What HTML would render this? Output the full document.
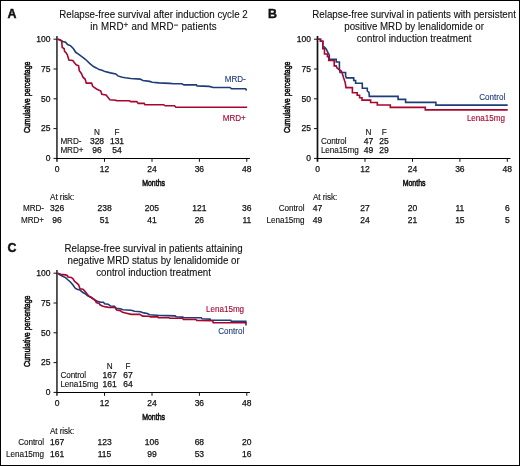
<!DOCTYPE html>
<html><head><meta charset="utf-8"><style>
html,body{margin:0;padding:0;background:#fff;}
body{width:520px;height:466px;overflow:hidden;position:relative;}
svg{position:absolute;left:0;top:0;font-family:"Liberation Sans", sans-serif;will-change:transform;}
#c{filter:blur(0.25px);}
svg text{fill:#111;stroke:#111;stroke-width:0.25px;}
</style></head><body>
<svg id="c" width="520" height="466" viewBox="0 0 520 466">
<text x="7.5" y="17.8" font-size="12.4" font-weight="bold" style="stroke-width:0.45px">A</text>
<text transform="translate(153.50,17.80) scale(0.92,1)" font-size="10.6" text-anchor="middle" style="stroke-width:0.12px">Relapse-free survival after induction cycle 2</text>
<text transform="translate(153.50,30.00) scale(0.92,1)" font-size="10.6" text-anchor="middle" style="stroke-width:0.12px"><tspan letter-spacing="0.16">in MRD</tspan><tspan font-size="9" dy="-1.9" letter-spacing="0.2">+</tspan><tspan dy="1.9" letter-spacing="0.16"> and MRD</tspan><tspan font-size="9" dy="-1.9" letter-spacing="0.2">−</tspan><tspan dy="1.9" letter-spacing="0.16"> patients</tspan></text>
<line x1="56.95" y1="36.0" x2="56.95" y2="161.8" stroke="#111" stroke-width="1.4"/>
<line x1="56.2" y1="158.5" x2="249.9" y2="158.5" stroke="#000" stroke-width="1.2"/>
<line x1="53.5" y1="158.4" x2="56.9" y2="158.4" stroke="#111" stroke-width="1"/>
<text x="50.50" y="161.20" font-size="8.5" text-anchor="end">0</text>
<line x1="53.5" y1="128.6" x2="56.9" y2="128.6" stroke="#111" stroke-width="1"/>
<text x="50.50" y="131.40" font-size="8.5" text-anchor="end">25</text>
<line x1="53.5" y1="98.8" x2="56.9" y2="98.8" stroke="#111" stroke-width="1"/>
<text x="50.50" y="101.60" font-size="8.5" text-anchor="end">50</text>
<line x1="53.5" y1="69.0" x2="56.9" y2="69.0" stroke="#111" stroke-width="1"/>
<text x="50.50" y="71.80" font-size="8.5" text-anchor="end">75</text>
<line x1="53.5" y1="39.2" x2="56.9" y2="39.2" stroke="#111" stroke-width="1"/>
<text x="50.50" y="42.00" font-size="8.5" text-anchor="end">100</text>
<line x1="104.5" y1="158.4" x2="104.5" y2="161.8" stroke="#111" stroke-width="1"/>
<line x1="152.0" y1="158.4" x2="152.0" y2="161.8" stroke="#111" stroke-width="1"/>
<line x1="199.4" y1="158.4" x2="199.4" y2="161.8" stroke="#111" stroke-width="1"/>
<line x1="246.8" y1="158.4" x2="246.8" y2="161.8" stroke="#111" stroke-width="1"/>
<text x="57.10" y="172.20" font-size="8.5" text-anchor="middle">0</text>
<text x="104.53" y="172.20" font-size="8.5" text-anchor="middle">12</text>
<text x="151.96" y="172.20" font-size="8.5" text-anchor="middle">24</text>
<text x="199.39" y="172.20" font-size="8.5" text-anchor="middle">36</text>
<text x="246.82" y="172.20" font-size="8.5" text-anchor="middle">48</text>
<text transform="translate(153.6,186.2) scale(0.725,1)" font-size="9.6" text-anchor="middle" style="stroke-width:0.6px">Months</text>
<text transform="translate(29.9,97.3) rotate(-90) scale(0.725,1)" font-size="9.6" text-anchor="middle" style="stroke-width:0.55px">Cumulative percentage</text>
<text transform="translate(97.00,135.30) scale(0.96,1)" font-size="8.5" text-anchor="middle" style="stroke-width:0.12px;letter-spacing:-0.1px">N</text>
<text transform="translate(117.00,135.30) scale(0.96,1)" font-size="8.5" text-anchor="middle" style="stroke-width:0.12px;letter-spacing:-0.1px">F</text>
<text transform="translate(60.40,144.10) scale(0.96,1)" font-size="8.5" style="stroke-width:0.12px;letter-spacing:-0.1px">MRD-</text>
<text x="97.00" y="144.10" font-size="8.5" text-anchor="middle">328</text>
<text x="117.00" y="144.10" font-size="8.5" text-anchor="middle">131</text>
<text transform="translate(60.40,153.10) scale(0.96,1)" font-size="8.5" style="stroke-width:0.12px;letter-spacing:-0.1px">MRD+</text>
<text x="97.00" y="153.10" font-size="8.5" text-anchor="middle">96</text>
<text x="117.00" y="153.10" font-size="8.5" text-anchor="middle">54</text>
<text transform="translate(50.10,199.50) scale(0.96,1)" font-size="8.5" style="stroke-width:0.12px;letter-spacing:-0.1px">At risk:</text>
<text transform="translate(43.90,211.10) scale(0.96,1)" font-size="8.5" text-anchor="end" style="stroke-width:0.12px;letter-spacing:-0.1px">MRD-</text>
<text x="57.10" y="211.10" font-size="8.5" text-anchor="middle">326</text>
<text x="104.53" y="211.10" font-size="8.5" text-anchor="middle">238</text>
<text x="151.96" y="211.10" font-size="8.5" text-anchor="middle">205</text>
<text x="199.39" y="211.10" font-size="8.5" text-anchor="middle">121</text>
<text x="246.82" y="211.10" font-size="8.5" text-anchor="middle">36</text>
<text transform="translate(43.90,223.10) scale(0.96,1)" font-size="8.5" text-anchor="end" style="stroke-width:0.12px;letter-spacing:-0.1px">MRD+</text>
<text x="57.10" y="223.10" font-size="8.5" text-anchor="middle">96</text>
<text x="104.53" y="223.10" font-size="8.5" text-anchor="middle">51</text>
<text x="151.96" y="223.10" font-size="8.5" text-anchor="middle">41</text>
<text x="199.39" y="223.10" font-size="8.5" text-anchor="middle">26</text>
<text x="246.82" y="223.10" font-size="8.5" text-anchor="middle">11</text>
<polyline points="57.5,39.2 59.0,39.6 62.7,41.5 65.6,42.2 67.5,44.6 70.4,45.6 73.3,48.5 75.7,52.3 78.1,53.8 80.5,55.7 83.8,58.1 86.7,60.5 89.6,63.4 93.5,66.6 96.3,67.9 99.2,69.6 102.1,70.2 105.0,71.6 110.4,72.9 115.8,74.0 117.9,75.9 122.2,77.2 125.4,77.8 130.8,78.5 140.2,79.1 142.9,80.5 149.6,81.4 152.3,82.2 159.0,82.9 169.8,83.4 173.8,83.8 181.9,83.8 183.9,84.9 196.4,84.9 197.1,85.9 209.2,86.4 213.3,87.5 230.1,87.5 231.4,88.8 245.6,88.8 246.6,90.5" fill="none" stroke="#1e3c78" stroke-width="1.6" stroke-linejoin="miter"/>
<polyline points="57.5,39.2 59.8,39.8 61.7,40.8 62.2,47.5 64.1,48.5 64.6,51.3 66.1,52.8 67.5,55.2 68.9,60.0 72.8,60.5 74.2,62.4 76.2,64.8 78.6,65.8 79.3,70.7 81.4,73.4 83.0,77.2 85.2,79.3 86.3,83.1 91.6,83.1 92.7,86.3 96.5,89.0 100.8,91.1 101.8,94.3 106.1,94.9 109.9,99.7 115.8,100.2 116.8,100.8 129.4,100.8 130.8,101.6 136.8,101.6 138.2,103.4 144.2,103.4 144.9,104.7 163.7,104.7 165.1,105.8 174.5,105.8 175.9,107.3 247.2,107.3" fill="none" stroke="#a8062e" stroke-width="1.6" stroke-linejoin="miter"/>
<text transform="translate(245.80,82.40) scale(0.95,1)" font-size="8.5" text-anchor="end" style="fill:#1e3c78;stroke:#1e3c78;stroke-width:0.12px">MRD-</text>
<text transform="translate(245.80,121.10) scale(0.95,1)" font-size="8.5" text-anchor="end" style="fill:#a8062e;stroke:#a8062e;stroke-width:0.12px">MRD+</text>
<text x="268.0" y="17.8" font-size="12.4" font-weight="bold" style="stroke-width:0.45px">B</text>
<text transform="translate(414.10,17.80) scale(0.92,1)" font-size="10.6" text-anchor="middle" style="stroke-width:0.12px">Relapse-free survival in patients with persistent</text>
<text transform="translate(414.10,30.00) scale(0.92,1)" font-size="10.6" text-anchor="middle" style="stroke-width:0.12px">positive MRD by lenalidomide or</text>
<text transform="translate(414.10,42.20) scale(0.92,1)" font-size="10.6" text-anchor="middle" style="stroke-width:0.12px">control induction treatment</text>
<line x1="317.50" y1="36.0" x2="317.50" y2="161.8" stroke="#111" stroke-width="1.7"/>
<line x1="316.7" y1="158.5" x2="510.4" y2="158.5" stroke="#000" stroke-width="1.2"/>
<line x1="314.0" y1="158.4" x2="317.4" y2="158.4" stroke="#111" stroke-width="1"/>
<text x="311.00" y="161.20" font-size="8.5" text-anchor="end">0</text>
<line x1="314.0" y1="128.6" x2="317.4" y2="128.6" stroke="#111" stroke-width="1"/>
<text x="311.00" y="131.40" font-size="8.5" text-anchor="end">25</text>
<line x1="314.0" y1="98.8" x2="317.4" y2="98.8" stroke="#111" stroke-width="1"/>
<text x="311.00" y="101.60" font-size="8.5" text-anchor="end">50</text>
<line x1="314.0" y1="69.0" x2="317.4" y2="69.0" stroke="#111" stroke-width="1"/>
<text x="311.00" y="71.80" font-size="8.5" text-anchor="end">75</text>
<line x1="314.0" y1="39.2" x2="317.4" y2="39.2" stroke="#111" stroke-width="1"/>
<text x="311.00" y="42.00" font-size="8.5" text-anchor="end">100</text>
<line x1="365.0" y1="158.4" x2="365.0" y2="161.8" stroke="#111" stroke-width="1"/>
<line x1="412.5" y1="158.4" x2="412.5" y2="161.8" stroke="#111" stroke-width="1"/>
<line x1="459.9" y1="158.4" x2="459.9" y2="161.8" stroke="#111" stroke-width="1"/>
<line x1="507.3" y1="158.4" x2="507.3" y2="161.8" stroke="#111" stroke-width="1"/>
<text x="317.60" y="172.20" font-size="8.5" text-anchor="middle">0</text>
<text x="365.03" y="172.20" font-size="8.5" text-anchor="middle">12</text>
<text x="412.46" y="172.20" font-size="8.5" text-anchor="middle">24</text>
<text x="459.89" y="172.20" font-size="8.5" text-anchor="middle">36</text>
<text x="507.32" y="172.20" font-size="8.5" text-anchor="middle">48</text>
<text transform="translate(414.1,186.2) scale(0.725,1)" font-size="9.6" text-anchor="middle" style="stroke-width:0.6px">Months</text>
<text transform="translate(290.4,97.3) rotate(-90) scale(0.725,1)" font-size="9.6" text-anchor="middle" style="stroke-width:0.55px">Cumulative percentage</text>
<text transform="translate(368.40,135.30) scale(0.96,1)" font-size="8.5" text-anchor="middle" style="stroke-width:0.12px;letter-spacing:-0.1px">N</text>
<text transform="translate(384.10,135.30) scale(0.96,1)" font-size="8.5" text-anchor="middle" style="stroke-width:0.12px;letter-spacing:-0.1px">F</text>
<text transform="translate(320.90,144.10) scale(0.96,1)" font-size="8.5" style="stroke-width:0.12px;letter-spacing:-0.1px">Control</text>
<text x="368.40" y="144.10" font-size="8.5" text-anchor="middle">47</text>
<text x="384.10" y="144.10" font-size="8.5" text-anchor="middle">25</text>
<text transform="translate(320.90,153.10) scale(0.96,1)" font-size="8.5" style="stroke-width:0.12px;letter-spacing:-0.1px">Lena15mg</text>
<text x="368.40" y="153.10" font-size="8.5" text-anchor="middle">49</text>
<text x="384.10" y="153.10" font-size="8.5" text-anchor="middle">29</text>
<text transform="translate(313.00,199.50) scale(0.96,1)" font-size="8.5" style="stroke-width:0.12px;letter-spacing:-0.1px">At risk:</text>
<text transform="translate(304.40,211.10) scale(0.96,1)" font-size="8.5" text-anchor="end" style="stroke-width:0.12px;letter-spacing:-0.1px">Control</text>
<text x="317.60" y="211.10" font-size="8.5" text-anchor="middle">47</text>
<text x="365.03" y="211.10" font-size="8.5" text-anchor="middle">27</text>
<text x="412.46" y="211.10" font-size="8.5" text-anchor="middle">20</text>
<text x="459.89" y="211.10" font-size="8.5" text-anchor="middle">11</text>
<text x="507.32" y="211.10" font-size="8.5" text-anchor="middle">6</text>
<text transform="translate(304.40,223.10) scale(0.96,1)" font-size="8.5" text-anchor="end" style="stroke-width:0.12px;letter-spacing:-0.1px">Lena15mg</text>
<text x="317.60" y="223.10" font-size="8.5" text-anchor="middle">49</text>
<text x="365.03" y="223.10" font-size="8.5" text-anchor="middle">24</text>
<text x="412.46" y="223.10" font-size="8.5" text-anchor="middle">21</text>
<text x="459.89" y="223.10" font-size="8.5" text-anchor="middle">15</text>
<text x="507.32" y="223.10" font-size="8.5" text-anchor="middle">5</text>
<polyline points="317.6,39.2 320.5,39.2 320.5,41.3 322.8,41.3 322.8,47.0 324.5,47.0 326.5,49.4 327.4,51.7 328.8,54.0 329.3,55.2 329.3,59.4 336.2,59.4 336.2,62.0 339.4,62.0 339.4,68.9 340.0,72.5 345.6,72.5 345.6,75.8 346.4,77.9 353.7,77.9 353.7,80.5 355.6,80.5 355.6,83.2 362.3,83.2 362.3,88.2 367.3,88.2 367.3,90.9 369.0,92.3 369.3,96.4 398.1,96.4 398.1,99.4 405.6,99.4 405.6,102.4 435.9,102.4 435.9,105.1 507.7,105.1" fill="none" stroke="#1e3c78" stroke-width="1.6" stroke-linejoin="miter"/>
<polyline points="317.6,39.2 320.5,39.2 320.5,41.3 322.8,41.3 322.8,48.8 324.5,48.8 324.5,54.0 327.4,54.0 327.4,56.6 328.8,56.6 328.8,60.5 334.2,60.5 334.2,65.9 336.2,65.9 337.0,68.0 339.2,69.7 341.3,71.0 342.2,73.2 343.5,77.5 345.2,82.6 346.0,87.6 352.4,87.6 352.4,92.8 357.2,92.8 357.2,95.3 359.6,95.3 359.6,97.7 362.0,97.7 362.0,100.1 370.6,100.1 370.6,102.5 377.3,102.5 377.3,105.0 390.3,105.0 390.3,107.4 425.3,107.4 425.3,109.9 507.7,109.9" fill="none" stroke="#a8062e" stroke-width="1.6" stroke-linejoin="miter"/>
<text transform="translate(505.20,99.75) scale(0.95,1)" font-size="8.5" text-anchor="end" style="fill:#1e3c78;stroke:#1e3c78;stroke-width:0.12px">Control</text>
<text transform="translate(505.00,121.25) scale(0.95,1)" font-size="8.5" text-anchor="end" style="fill:#a8062e;stroke:#a8062e;stroke-width:0.12px">Lena15mg</text>
<text x="7.5" y="251.8" font-size="12.4" font-weight="bold" style="stroke-width:0.45px">C</text>
<text transform="translate(153.60,251.80) scale(0.92,1)" font-size="10.6" text-anchor="middle" style="stroke-width:0.12px">Relapse-free survival in patients attaining</text>
<text transform="translate(153.60,264.00) scale(0.92,1)" font-size="10.6" text-anchor="middle" style="stroke-width:0.12px">negative MRD status by lenalidomide or</text>
<text transform="translate(153.60,276.20) scale(0.92,1)" font-size="10.6" text-anchor="middle" style="stroke-width:0.12px">control induction treatment</text>
<line x1="56.95" y1="270.0" x2="56.95" y2="395.8" stroke="#111" stroke-width="1.4"/>
<line x1="56.2" y1="392.5" x2="249.9" y2="392.5" stroke="#000" stroke-width="1.2"/>
<line x1="53.5" y1="392.4" x2="56.9" y2="392.4" stroke="#111" stroke-width="1"/>
<text x="50.50" y="395.20" font-size="8.5" text-anchor="end">0</text>
<line x1="53.5" y1="362.6" x2="56.9" y2="362.6" stroke="#111" stroke-width="1"/>
<text x="50.50" y="365.40" font-size="8.5" text-anchor="end">25</text>
<line x1="53.5" y1="332.8" x2="56.9" y2="332.8" stroke="#111" stroke-width="1"/>
<text x="50.50" y="335.60" font-size="8.5" text-anchor="end">50</text>
<line x1="53.5" y1="303.0" x2="56.9" y2="303.0" stroke="#111" stroke-width="1"/>
<text x="50.50" y="305.80" font-size="8.5" text-anchor="end">75</text>
<line x1="53.5" y1="273.2" x2="56.9" y2="273.2" stroke="#111" stroke-width="1"/>
<text x="50.50" y="276.00" font-size="8.5" text-anchor="end">100</text>
<line x1="104.5" y1="392.4" x2="104.5" y2="395.8" stroke="#111" stroke-width="1"/>
<line x1="152.0" y1="392.4" x2="152.0" y2="395.8" stroke="#111" stroke-width="1"/>
<line x1="199.4" y1="392.4" x2="199.4" y2="395.8" stroke="#111" stroke-width="1"/>
<line x1="246.8" y1="392.4" x2="246.8" y2="395.8" stroke="#111" stroke-width="1"/>
<text x="57.10" y="406.20" font-size="8.5" text-anchor="middle">0</text>
<text x="104.53" y="406.20" font-size="8.5" text-anchor="middle">12</text>
<text x="151.96" y="406.20" font-size="8.5" text-anchor="middle">24</text>
<text x="199.39" y="406.20" font-size="8.5" text-anchor="middle">36</text>
<text x="246.82" y="406.20" font-size="8.5" text-anchor="middle">48</text>
<text transform="translate(153.6,420.2) scale(0.725,1)" font-size="9.6" text-anchor="middle" style="stroke-width:0.6px">Months</text>
<text transform="translate(29.9,331.3) rotate(-90) scale(0.725,1)" font-size="9.6" text-anchor="middle" style="stroke-width:0.55px">Cumulative percentage</text>
<text transform="translate(109.70,369.30) scale(0.96,1)" font-size="8.5" text-anchor="middle" style="stroke-width:0.12px;letter-spacing:-0.1px">N</text>
<text transform="translate(127.90,369.30) scale(0.96,1)" font-size="8.5" text-anchor="middle" style="stroke-width:0.12px;letter-spacing:-0.1px">F</text>
<text transform="translate(60.40,378.10) scale(0.96,1)" font-size="8.5" style="stroke-width:0.12px;letter-spacing:-0.1px">Control</text>
<text x="109.70" y="378.10" font-size="8.5" text-anchor="middle">167</text>
<text x="127.90" y="378.10" font-size="8.5" text-anchor="middle">67</text>
<text transform="translate(60.40,387.10) scale(0.96,1)" font-size="8.5" style="stroke-width:0.12px;letter-spacing:-0.1px">Lena15mg</text>
<text x="109.70" y="387.10" font-size="8.5" text-anchor="middle">161</text>
<text x="127.90" y="387.10" font-size="8.5" text-anchor="middle">64</text>
<text transform="translate(50.00,433.50) scale(0.96,1)" font-size="8.5" style="stroke-width:0.12px;letter-spacing:-0.1px">At risk:</text>
<text transform="translate(43.90,445.10) scale(0.96,1)" font-size="8.5" text-anchor="end" style="stroke-width:0.12px;letter-spacing:-0.1px">Control</text>
<text x="57.10" y="445.10" font-size="8.5" text-anchor="middle">167</text>
<text x="104.53" y="445.10" font-size="8.5" text-anchor="middle">123</text>
<text x="151.96" y="445.10" font-size="8.5" text-anchor="middle">106</text>
<text x="199.39" y="445.10" font-size="8.5" text-anchor="middle">68</text>
<text x="246.82" y="445.10" font-size="8.5" text-anchor="middle">20</text>
<text transform="translate(43.90,457.10) scale(0.96,1)" font-size="8.5" text-anchor="end" style="stroke-width:0.12px;letter-spacing:-0.1px">Lena15mg</text>
<text x="57.10" y="457.10" font-size="8.5" text-anchor="middle">161</text>
<text x="104.53" y="457.10" font-size="8.5" text-anchor="middle">115</text>
<text x="151.96" y="457.10" font-size="8.5" text-anchor="middle">99</text>
<text x="199.39" y="457.10" font-size="8.5" text-anchor="middle">53</text>
<text x="246.82" y="457.10" font-size="8.5" text-anchor="middle">16</text>
<polyline points="57.5,273.2 60.8,275.2 63.7,276.7 65.6,277.6 67.5,279.5 70.4,282.0 72.8,284.8 75.2,288.2 77.1,289.3 80.0,290.1 82.9,292.5 84.8,293.5 87.7,295.9 91.5,297.8 94.4,299.7 97.3,301.2 100.2,302.1 103.5,302.2 104.6,303.7 108.1,304.2 110.4,306.0 114.4,306.2 116.2,308.3 120.2,308.8 123.1,309.8 131.2,310.2 134.6,311.2 140.4,311.7 143.8,312.9 147.3,313.5 149.6,314.8 156.5,315.2 157.9,315.4 175.2,315.9 176.2,316.8 182.9,317.1 183.8,317.8 201.2,317.8 202.1,318.8 210.0,319.1 210.6,320.2 230.7,320.2 231.2,321.3 245.8,321.3 246.0,325.5" fill="none" stroke="#1e3c78" stroke-width="1.6" stroke-linejoin="miter"/>
<polyline points="57.5,273.2 60.8,274.2 63.7,274.6 65.6,274.9 67.5,275.7 68.0,277.1 71.3,277.4 72.8,278.6 74.7,281.5 77.1,283.4 78.6,284.8 80.0,288.7 82.9,289.2 84.8,291.1 86.7,293.5 88.7,295.9 91.1,297.3 93.5,298.8 95.4,300.7 96.3,302.6 99.2,303.6 100.0,304.8 102.3,306.0 105.8,306.9 109.2,307.5 115.0,307.5 116.7,310.0 120.2,310.6 122.5,312.3 126.5,313.2 131.2,314.4 139.8,314.4 142.7,316.1 148.5,316.3 150.8,316.9 157.7,316.9 158.4,317.8 168.9,317.8 169.9,318.3 182.4,318.3 183.4,319.5 195.9,319.5 196.8,320.4 212.7,320.7 213.2,322.7 246.6,322.7" fill="none" stroke="#a8062e" stroke-width="1.6" stroke-linejoin="miter"/>
<text transform="translate(244.10,311.90) scale(0.95,1)" font-size="8.5" text-anchor="end" style="fill:#a8062e;stroke:#a8062e;stroke-width:0.12px">Lena15mg</text>
<text transform="translate(244.20,333.60) scale(0.95,1)" font-size="8.5" text-anchor="end" style="fill:#1e3c78;stroke:#1e3c78;stroke-width:0.12px">Control</text>
</svg>
<svg width="520" height="466" viewBox="0 0 520 466">
<rect x="0.5" y="0.5" width="519" height="465" fill="none" stroke="#000" stroke-width="1"/>
</svg>
</body></html>
